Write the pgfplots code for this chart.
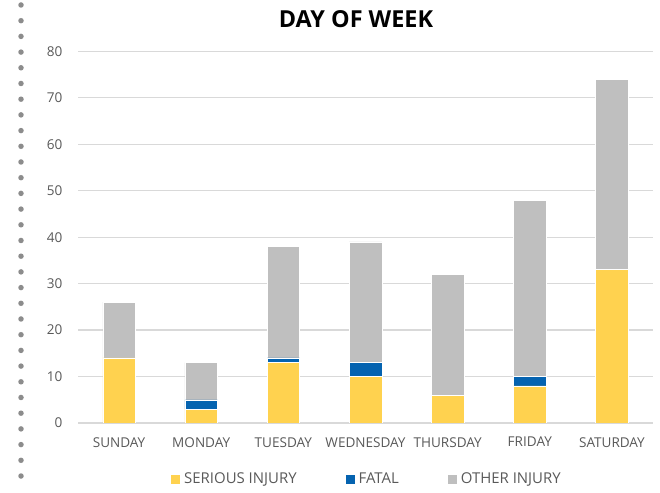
\documentclass[border=0pt]{standalone}
\usepackage{fontspec}
\setmainfont{Open Sans}
\usepackage{pgfplots}
\pgfplotsset{compat=1.18}
\definecolor{serious}{HTML}{FFD24F}
\definecolor{fatal}{HTML}{0563B0}
\definecolor{other}{HTML}{BFBFBF}
\definecolor{gridc}{HTML}{D9D9D9}
\definecolor{txt}{HTML}{595959}
\definecolor{dotc}{HTML}{8C8C8C}
\begin{document}
\begin{tikzpicture}[x=1bp,y=1bp]
\path[use as bounding box] (0,0) rectangle (660,493);
\draw[color=dotc, line width=5.5bp, line cap=round, dash pattern=on 0bp off 15.7bp] (21,488) -- (21,4);
\node[anchor=base, inner sep=0pt, font=\fontsize{23.5}{28}\selectfont\bfseries] at (356,465) {DAY OF WEEK};
\begin{axis}[
  at={(78bp,70bp)}, anchor=south west,
  scale only axis, width=575bp, height=371.6bp,
  xmin=-0.5, xmax=6.5, ymin=0, ymax=80,
  ytick={0,10,...,80},
  xtick={0,...,6},
  xticklabels={SUNDAY,MONDAY,TUESDAY,WEDNESDAY,THURSDAY,FRIDAY,SATURDAY},
  ymajorgrids, grid style={gridc, line width=1.3bp},
  axis line style={draw=none},
  major tick length=0pt,
  /pgf/number format/assume math mode=true,
  ticklabel style={font=\fontsize{13.6}{16}\selectfont, text=txt, inner sep=0pt},
  yticklabel style={xshift=-15.5bp},
  xticklabel style={yshift=-14bp},
  ybar stacked, bar width=32.6bp,
  legend columns=3,
  legend style={draw=none, fill=none, at={(axis description cs:0.16,-0.1507)}, anchor=west, inner sep=0pt,
    nodes={inner sep=0pt, anchor=west, text=txt, font=\fontsize{15}{18}\selectfont},
    /tikz/every even column/.append style={column sep=48bp},
    /tikz/every odd column/.append style={column sep=3.5bp}},
  legend image code/.code={\fill[#1] (0bp,-5bp) rectangle (10bp,5bp);},
]
\addplot[fill=serious, draw=white, line width=0.5bp] coordinates {(0,14) (1,3) (2,13) (3,10) (4,6) (5,8) (6,33)};
\addplot[fill=fatal, draw=white, line width=0.5bp] coordinates {(0,0) (1,2) (2,1) (3,3) (4,0) (5,2) (6,0)};
\addplot[fill=other, draw=white, line width=0.5bp] coordinates {(0,12) (1,8) (2,24) (3,26) (4,26) (5,38) (6,41)};
\legend{SERIOUS INJURY, FATAL, OTHER INJURY}
\end{axis}
\end{tikzpicture}
\end{document}
